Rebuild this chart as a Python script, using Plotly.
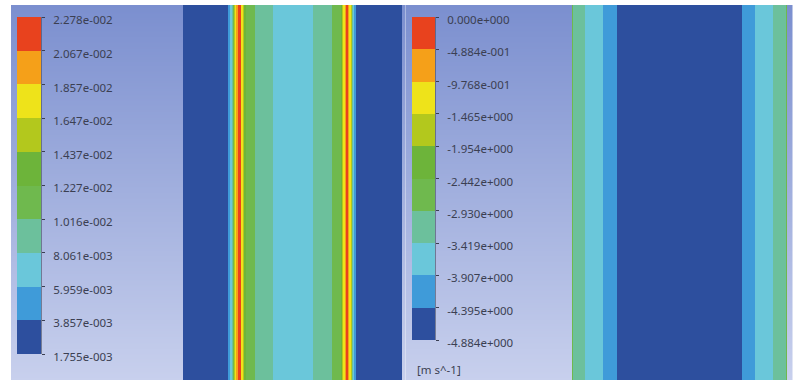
import plotly.graph_objects as go

W, H = 801, 389

# ---------------- data ----------------
# 10-level rainbow legend colours (low -> high)
band_colors = ["#2d4f9e", "#3f9bd9", "#6ac7da", "#6cc09c", "#6fb94e",
               "#6db43a", "#b3c81d", "#eee31a", "#f5a019", "#e8421e"]

# Left contour: colour-bar labels (bottom -> top)
left_labels = ["1.755e-003", "3.857e-003", "5.959e-003", "8.061e-003", "1.016e-002",
               "1.227e-002", "1.437e-002", "1.647e-002", "1.857e-002", "2.067e-002",
               "2.278e-002"]
# Right contour: colour-bar labels (bottom -> top) and unit
right_labels = ["-4.884e+000", "-4.395e+000", "-3.907e+000", "-3.419e+000", "-2.930e+000",
                "-2.442e+000", "-1.954e+000", "-1.465e+000", "-9.768e-001", "-4.884e-001",
                "0.000e+000"]
right_unit = "[m s^-1]"

# Left contour: normalised radius (cell edges) and value of each cell
left_r = [-1.0, -0.5890, -0.5708, -0.5571, -0.5479, -0.5388, -0.5297, -0.5160,
          -0.5023, -0.4749, -0.4658, -0.4521, -0.4429, -0.4292, -0.3425, -0.1781,
          0.1872, 0.3607, 0.4384, 0.4521, 0.4612, 0.4749, 0.4840, 0.5068, 0.5160,
          0.5297, 0.5388, 0.5479, 0.5571, 0.5799, 1.0]
left_val = [0.0025, 0.0049, 0.0070, 0.0091, 0.0112, 0.0155, 0.0176, 0.0197, 0.0222,
            0.0198, 0.0177, 0.0156, 0.0133, 0.0113, 0.0092, 0.0074, 0.0092, 0.0113,
            0.0134, 0.0156, 0.0176, 0.0198, 0.0221, 0.0197, 0.0175, 0.0154, 0.0090,
            0.0069, 0.0048, 0.0026]

# Right contour (velocity): normalised radius (cell edges) and value of each cell
right_r = [-1.0, -0.9907, -0.8791, -0.7116, -0.5814, 0.5814, 0.7023, 0.8698, 0.9907, 1.0]
right_val = [-2.70, -3.20, -3.68, -4.15, -4.70, -4.16, -3.66, -3.18, -2.72]

# ---------------- helpers ----------------
def discrete_scale(colors):
    n = len(colors)
    cs = []
    for i, c in enumerate(colors):
        cs.append([i / n, c])
        cs.append([(i + 1) / n, c])
    return cs

CS = discrete_scale(band_colors)
TXT = "#3b3f52"
FONT = "Noto Sans"

def px_x(a, b):
    return [a / W, b / W]

def px_y(top, bottom):
    return [1 - bottom / H, 1 - top / H]

fig = go.Figure()

bg_scale = [[0, "#c8d0ed"], [1, "#7b8fcf"]]

def hidden_axis(domain, rng, anchor):
    return dict(domain=domain, range=rng, visible=False, anchor=anchor,
                automargin=False, fixedrange=True)

def add_panel(idx_bg, idx_strip, idx_cb, xdom_bg, xdom_strip, xdom_cb, ydom_cb,
              r, vals, labels):
    ticks = [float(s) for s in labels]
    zmin, zmax = ticks[0], ticks[-1]
    # background gradient
    fig.add_trace(go.Heatmap(z=[[0, 0], [1, 1]], x=[0, 1], y=[0, 1], zsmooth="best",
                             colorscale=bg_scale, showscale=False, hoverinfo="skip",
                             xaxis=f"x{idx_bg}", yaxis=f"y{idx_bg}"))
    # contour strip
    fig.add_trace(go.Heatmap(z=[vals, vals], x=r, y=[0, 0.5, 1], zmin=zmin, zmax=zmax,
                             colorscale=CS, showscale=False,
                             xaxis=f"x{idx_strip}", yaxis=f"y{idx_strip}"))
    # colour bar drawn as a one-column heatmap
    centers = [[(ticks[i] + ticks[i + 1]) / 2] for i in range(len(ticks) - 1)]
    fig.add_trace(go.Heatmap(z=centers, x=[0, 1], y=ticks, zmin=zmin, zmax=zmax,
                             colorscale=CS, showscale=False, hoverinfo="skip",
                             xaxis=f"x{idx_cb}", yaxis=f"y{idx_cb}"))
    ydom_panel = px_y(5, 380)
    fig.layout[f"xaxis{idx_bg}"] = hidden_axis(xdom_bg, [0, 1], f"y{idx_bg}")
    fig.layout[f"yaxis{idx_bg}"] = hidden_axis(ydom_panel, [0, 1], f"x{idx_bg}")
    fig.layout[f"xaxis{idx_strip}"] = hidden_axis(xdom_strip, [-1, 1], f"y{idx_strip}")
    fig.layout[f"yaxis{idx_strip}"] = hidden_axis(ydom_panel, [0, 1], f"x{idx_strip}")
    fig.layout[f"xaxis{idx_cb}"] = hidden_axis(xdom_cb, [0, 1], f"y{idx_cb}")
    fig.layout[f"yaxis{idx_cb}"] = dict(domain=ydom_cb, range=[zmin, zmax], side="right",
                                        anchor=f"x{idx_cb}", tickvals=ticks, ticktext=labels,
                                        ticks="outside", ticklen=3, tickwidth=1,
                                        tickcolor=TXT, showgrid=False, zeroline=False,
                                        showline=True, linecolor="rgba(70,75,95,0.6)",
                                        linewidth=1, ticklabelstandoff=6,
                                        ticklabelshift=3,
                                        automargin=False, fixedrange=True,
                                        tickfont=dict(family=FONT, size=11.5, color=TXT))

add_panel(1, 2, 3, px_x(11, 405.5), px_x(183, 402), px_x(17, 41), px_y(17, 354),
          left_r, left_val, left_labels)
add_panel(4, 5, 6, px_x(405.5, 793), px_x(572, 787), px_x(412, 435), px_y(17, 340),
          right_r, right_val, right_labels)

fig.add_annotation(text=right_unit, xref="paper", yref="paper", x=415 / W, y=1 - 369 / H,
                   xanchor="left", yanchor="middle", showarrow=False,
                   font=dict(family=FONT, size=11.5, color=TXT))

fig.update_layout(width=W, height=H, autosize=False,
                  margin=dict(l=0, r=0, t=0, b=0, pad=0, autoexpand=False),
                  paper_bgcolor="white", plot_bgcolor="rgba(0,0,0,0)",
                  showlegend=False)

fig.write_html("out.html", config={"displayModeBar": False},
               post_script="document.body.style.margin='0';document.body.style.overflow='hidden';")
